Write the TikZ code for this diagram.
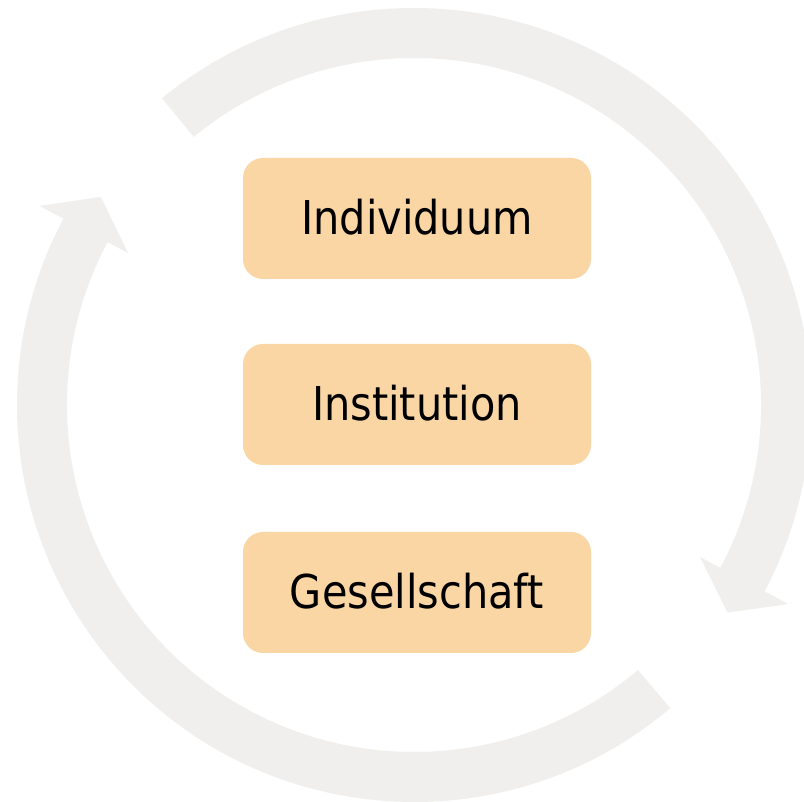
\documentclass[tikz,border=0pt]{standalone}
\usepackage{fontspec}
\setmainfont{DejaVu Sans}[FakeStretch=0.89]
\definecolor{bandgray}{RGB}{240,239,237}
\definecolor{peach}{RGB}{250,214,165}
\tikzset{
  band/.style={fill=bandgray, draw=none},
  box/.style={fill=peach, draw=none, rounded corners=20pt, minimum width=348pt, minimum height=121pt,
    inner sep=0pt, text height=33pt, text depth=0pt, font=\fontsize{46.6pt}{56pt}\selectfont, text=black}
}
\begin{document}
\begin{tikzpicture}
\useasboundingbox (0,0) rectangle (804pt,802pt);
\fill[white] (0,0) rectangle (804pt,802pt);
\begin{scope}[shift={(414pt,397pt)}]
  % upper-right arc with arrowhead at lower right
  \fill[band] (129.4:397pt) arc[start angle=129.4, end angle=-28, radius=397pt]
    -- (-28:424pt) -- (-33.5:376pt) -- (-28:324pt) -- (-28:347pt)
    arc[start angle=-28, end angle=129.4, radius=347pt] -- cycle;
  % lower-left arc with arrowhead at upper left
  \fill[band] (-49.8:397pt) arc[start angle=-49.8, end angle=-208, radius=397pt]
    -- (-208:424pt) -- (-213.6:376pt) -- (-208:324pt) -- (-208:347pt)
    arc[start angle=-208, end angle=-49.8, radius=347pt] -- cycle;
\end{scope}
\node[box] (indiv) at (417pt,583.5pt) {Individuum};
\node[box] (inst) at (417pt,397.5pt) {Institution};
\node[box] (ges) at (417pt,209.5pt) {Gesellschaft};
\end{tikzpicture}
\end{document}
